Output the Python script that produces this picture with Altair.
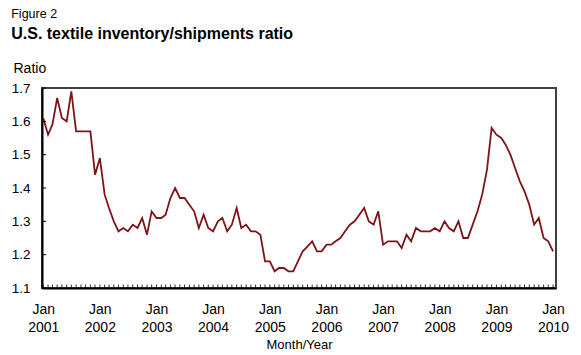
import altair as alt
import pandas as pd

# Monthly U.S. textile inventory/shipments ratio, Jan 2001 - Jan 2010
v2001 = [1.61, 1.56, 1.59, 1.67, 1.61, 1.60, 1.69, 1.57, 1.57, 1.57, 1.57, 1.44]
v2002 = [1.49, 1.38, 1.34, 1.30, 1.27, 1.28, 1.27, 1.29, 1.28, 1.31, 1.26, 1.33]
v2003 = [1.31, 1.31, 1.32, 1.37, 1.40, 1.37, 1.37, 1.35, 1.33, 1.28, 1.32, 1.28]
v2004 = [1.27, 1.30, 1.31, 1.27, 1.29, 1.34, 1.28, 1.29, 1.27, 1.27, 1.26, 1.18]
v2005 = [1.18, 1.15, 1.16, 1.16, 1.15, 1.15, 1.18, 1.21, 1.225, 1.24, 1.21, 1.21]
v2006 = [1.23, 1.23, 1.24, 1.25, 1.27, 1.29, 1.30, 1.32, 1.34, 1.30, 1.29, 1.33]
v2007 = [1.23, 1.24, 1.24, 1.24, 1.22, 1.26, 1.24, 1.28, 1.27, 1.27, 1.27, 1.28]
v2008 = [1.27, 1.30, 1.28, 1.27, 1.30, 1.25, 1.25, 1.29, 1.33, 1.38, 1.455, 1.58]
v2009 = [1.56, 1.55, 1.53, 1.50, 1.46, 1.42, 1.39, 1.35, 1.29, 1.31, 1.25, 1.24]
v2010 = [1.21]

values = v2001 + v2002 + v2003 + v2004 + v2005 + v2006 + v2007 + v2008 + v2009 + v2010
dates = pd.date_range("2001-01-01", periods=len(values), freq="MS")
df = pd.DataFrame({"date": dates, "ratio": values})

year_labels = [d.isoformat() for d in pd.date_range("2001-01-01", "2010-01-01", freq="YS")]
month_ticks = pd.DataFrame({"date": dates})
y_ticks = [1.1, 1.2, 1.3, 1.4, 1.5, 1.6, 1.7]
y_tick_df = pd.DataFrame({"v": y_ticks})

FONT = "Liberation Sans"
W, H = 514, 200

x_scale = alt.Scale(domain=[alt.DateTime(year=2000, month=12, date=24),
                            alt.DateTime(year=2010, month=1, date=20)])
y_scale = alt.Scale(domain=[1.1, 1.7], nice=False, zero=False)

x_axis = alt.Axis(
    values=year_labels,
    labelExpr="[timeFormat(datum.value, '%b'), timeFormat(datum.value, '%Y')]",
    labelFontSize=14, labelLineHeight=18, labelPadding=14, labelColor="black",
    labelFont=FONT, labelFlush=False, labelOverlap=False,
    ticks=False, grid=False, domainColor="black", domainWidth=2,
    title="Month/Year", titleFont=FONT, titleFontSize=13, titleFontWeight="normal",
    titleColor="black", titlePadding=4,
)
y_axis = alt.Axis(
    values=y_ticks, format=".1f",
    labelFontSize=13.5, labelPadding=12, labelColor="black", labelFont=FONT,
    labelOverlap=False, labelFlush=False,
    ticks=False, grid=False, domainColor="black", domainWidth=2,
    title="Ratio", titleAngle=0, titleAlign="left", titleBaseline="alphabetic",
    titleX=-29, titleY=-15.5, titleFont=FONT, titleFontSize=14,
    titleFontWeight="normal", titleColor="black",
)

line = alt.Chart(df).mark_line(color="#7d1418", strokeWidth=1.8).encode(
    x=alt.X("date:T", scale=x_scale, axis=x_axis),
    y=alt.Y("ratio:Q", scale=y_scale, axis=y_axis),
)

xticks = alt.Chart(month_ticks).mark_rule(color="black", strokeWidth=0.8).encode(
    x=alt.X("date:T", scale=x_scale, axis=x_axis),
    y=alt.value(H - 3.5),
    y2=alt.value(H),
)

yticks = alt.Chart(y_tick_df).mark_rule(color="black", strokeWidth=1).encode(
    y=alt.Y("v:Q", scale=y_scale, axis=y_axis),
    x=alt.value(0),
    x2=alt.value(4),
)

chart = alt.layer(line, xticks, yticks).properties(
    width=W, height=H,
    autosize=alt.AutoSizeParams(type="none"),
    padding={"left": 34, "top": 80, "right": 17, "bottom": 62},
    title=alt.TitleParams(
        text="Figure 2",
        subtitle="U.S. textile inventory/shipments ratio",
        anchor="start", frame="bounds",
        font=FONT, fontSize=12.5, fontWeight="normal", color="black",
        subtitleFont=FONT, subtitleFontSize=16, subtitleFontWeight="bold",
        subtitleColor="black", subtitlePadding=5, offset=20,
    ),
).configure_view(stroke="#404040", strokeWidth=2)

chart.save("out.html", embed_options={"renderer": "svg", "actions": False})
